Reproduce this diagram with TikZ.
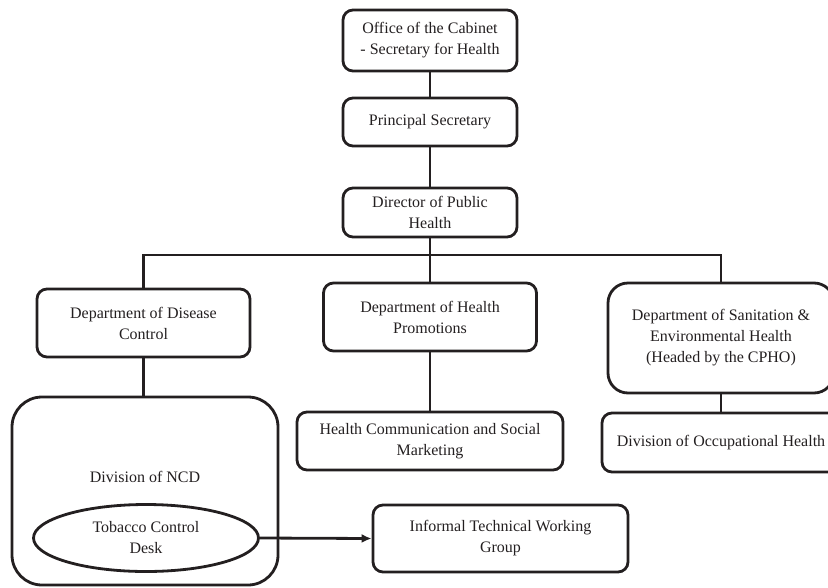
\documentclass[tikz,border=0pt]{standalone}
\usepackage{fontspec}
\setmainfont{Liberation Serif}
\usetikzlibrary{arrows.meta,shapes.geometric}
\definecolor{ink}{HTML}{231F20}
\begin{document}
\begin{tikzpicture}[x=1pt,y=-1pt,
  every node/.style={font=\fontsize{16}{21}\selectfont, text=ink},
  box/.style={draw=ink, line width=2.8pt, rounded corners=10pt, align=center, inner sep=0pt},
  conn/.style={draw=ink, line width=2.8pt},
  ell/.style={draw=ink, line width=2.8pt, ellipse, align=center, inner sep=0pt}]
\path[use as bounding box, clip] (0,0) rectangle (828,587);
\node[box, minimum width=174pt, minimum height=61pt] (off) at (430,40.5) {Office of the Cabinet\\- Secretary for Health};
\node[box, minimum width=174pt, minimum height=48pt] (ps) at (430,122) {Principal Secretary};
\node[box, minimum width=174pt, minimum height=49pt] (dir) at (430,212.5) {Director of Public\\Health};
\node[box, minimum width=213pt, minimum height=68pt] (ddc) at (143.5,323) {Department of Disease\\Control};
\node[box, minimum width=213pt, minimum height=68pt] (dhp) at (430,317) {Department of Health\\Promotions};
\node[box, rounded corners=20pt, minimum width=226pt, minimum height=110pt] (dse) at (721,338) {Department of Sanitation \&\\Environmental Health\\(Headed by the CPHO)};
\node[box, minimum width=266pt, minimum height=58pt] (hcsm) at (430,441) {Health Communication and Social\\Marketing};
\node[box, minimum width=238pt, minimum height=59pt] (occ) at (721,442.5) {Division of Occupational Health};
\node[box, rounded corners=30pt, minimum width=266pt, minimum height=188pt] (ncd) at (145,491) {};
\node (ncdt) at (145,477) {Division of NCD};
\node[ell, minimum width=225pt, minimum height=67pt] (tcd) at (146,538) {Tobacco Control\\Desk};
\node[box, minimum width=255pt, minimum height=67pt] (itwg) at (500.5,538.5) {Informal Technical Working\\Group};
\coordinate (bus) at (430,255);
\path[conn] (off.south) -- (ps.north);
\path[conn] (ps.south) -- (dir.north);
\path[conn] (dir.south) -- (dhp.north);
\path[conn] (ddc.north) |- (bus) -| (dse.north);
\path[conn] (dhp.south) -- (hcsm.north);
\path[conn] (ddc.south) -- (ddc.south |- ncd.north);
\path[conn] (dse.south) -- (occ.north);
\path[conn, -{Latex[length=10pt,width=9pt]}] (tcd.east) -- (itwg.west);
\end{tikzpicture}
\end{document}
